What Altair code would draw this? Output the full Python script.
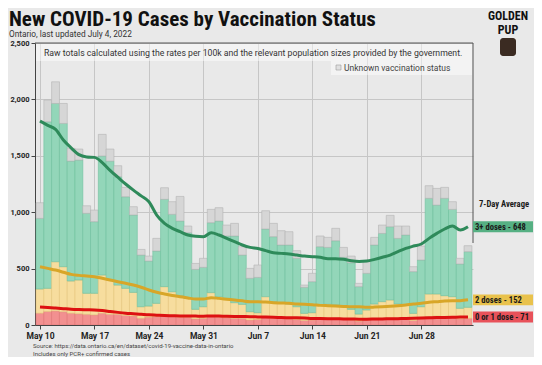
import altair as alt
import pandas as pd

# ---------------- data ----------------
dates = [d.strftime("%Y-%m-%d") for d in pd.date_range("2022-05-10", "2022-07-04", freq="D")]

dose01 = [105, 120, 125, 118, 105, 100, 95, 90, 105, 95, 95, 85, 80, 60,
          70, 75, 80, 80, 70, 70, 55, 60, 75, 70, 65, 60, 60, 45,
          50, 65, 60, 60, 55, 50, 40, 45, 60, 55, 55, 50, 45, 35,
          45, 55, 60, 60, 55, 50, 40, 55, 75, 80, 75, 70, 55, 60]
dose2 = [214, 205, 436, 399, 285, 299, 186, 191, 338, 304, 259, 240, 209, 102,
         98, 117, 260, 215, 190, 166, 84, 102, 212, 181, 171, 138, 123, 73,
         59, 186, 147, 132, 131, 112, 63, 64, 117, 128, 122, 118, 94, 62,
         88, 131, 147, 162, 131, 127, 63, 107, 200, 195, 185, 181, 93, 97]
dose3 = [626, 1477, 1403, 1270, 1063, 1063, 709, 635, 1055, 1054, 961, 812, 686, 458,
         399, 464, 774, 686, 662, 582, 354, 349, 620, 671, 553, 591, 437, 296,
         313, 600, 576, 517, 523, 429, 231, 275, 517, 505, 570, 432, 413, 243,
         325, 523, 605, 649, 582, 621, 370, 414, 848, 788, 863, 774, 393, 493]
unknown = [139, 192, 192, 177, 113, 98, 67, 103, 192, 107, 97, 83, 74, 50,
           44, 112, 103, 112, 218, 59, 53, 80, 118, 118, 97, 112, 74, 88,
           110, 162, 118, 127, 118, 68, 20, 74, 95, 89, 110, 88, 59, 29,
           103, 68, 74, 101, 109, 79, 44, 124, 112, 148, 97, 68, 50, 53]

# 7-day averages per category
avg01 = [160, 155, 150, 145, 140, 137, 135, 133, 128, 120, 112, 105, 100, 95,
         90, 87, 84, 82, 80, 80, 79, 78, 80, 79, 77, 76, 75, 74,
         72, 70, 68, 66, 65, 64, 62, 58, 57, 56, 55, 54, 53, 52,
         52, 53, 54, 55, 56, 58, 60, 62, 64, 66, 67, 68, 70, 71]
avg2 = [357, 347, 337, 323, 309, 303, 299, 295, 286, 279, 272, 265, 255, 240,
        220, 203, 191, 180, 171, 160, 151, 152, 162, 157, 152, 146, 139, 133,
        135, 133, 130, 129, 127, 123, 121, 122, 117, 115, 113, 111, 109, 110,
        105, 106, 108, 111, 115, 120, 126, 130, 137, 141, 146, 148, 146, 152]
avg3 = [1291, 1268, 1247, 1172, 1121, 1070, 1056, 1058, 1026, 971, 926, 880, 841, 810,
        783, 685, 626, 595, 576, 558, 556, 553, 576, 562, 539, 517, 495, 481,
        472, 456, 443, 440, 437, 433, 428, 426, 426, 417, 420, 417, 408, 402,
        410, 423, 438, 454, 479, 501, 514, 526, 567, 605, 638, 661, 626, 648]

week_ticks = ["2022-05-10", "2022-05-17", "2022-05-24", "2022-05-31",
              "2022-06-07", "2022-06-14", "2022-06-21", "2022-06-28"]
y_ticks = [0, 500, 1000, 1500, 2000, 2500]

cats = ["0 or 1 dose", "2 doses", "3+ doses", "Unknown"]
fills = ["#f29090", "#f7dd9e", "#93d6b9", "#d6d6d6"]
strokes = ["#e07676", "#e6c67c", "#6fc19d", "#b4b4b4"]
line_cats = ["0 or 1 dose", "2 doses", "3+ doses"]
line_colors = ["#dd1111", "#d8a628", "#2e8a5a"]
label_fills = ["#e8525a", "#e9c24c", "#56b083"]
label_names = ["0 or 1 dose", "2 doses", "3+ doses"]

# ---------------- frames ----------------
rows = []
for i, d in enumerate(dates):
    for k, (c, v) in enumerate(zip(cats, [dose01[i], dose2[i], dose3[i], unknown[i]])):
        rows.append({"date": d, "cat": c, "value": v, "ord": k})
bars_df = pd.DataFrame(rows)

lrows = []
for i, d in enumerate(dates):
    c1 = avg01[i]
    c2 = c1 + avg2[i]
    c3 = c2 + avg3[i]
    for c, v in zip(line_cats, [c1, c2, c3]):
        lrows.append({"date": d, "line": c, "cum": v})
lines_df = pd.DataFrame(lrows)

last = [avg01[-1], avg2[-1], avg3[-1]]
cum_last = [avg01[-1], avg01[-1] + avg2[-1], avg01[-1] + avg2[-1] + avg3[-1]]
lab_df = pd.DataFrame({
    "name": label_names,
    "text": [f"{n} - {v}" for n, v in zip(label_names, last)],
    "pos": cum_last,
    "fill": label_fills,
})
lab_df["top"] = lab_df["pos"] + 48
lab_df["bot"] = lab_df["pos"] - 48


def ms(s):
    return int(pd.Timestamp(s, tz="UTC").value // 10**6)


W, H = 438, 282
FONT = "Roboto"
NARROW = "Liberation Sans Narrow, Roboto Condensed, DejaVu Sans Condensed, sans-serif"

xscale = alt.Scale(type="utc", domain=[ms(dates[0]), ms(dates[-1])])
yscale = alt.Scale(domain=[0, 2500], nice=False)

xaxis = alt.Axis(values=[ms(t) for t in week_ticks],
                 labelExpr="utcFormat(datum.value, '%b %-d')",
                 labelFont=FONT, labelFontSize=8.5, labelFontWeight="bold", labelColor="#222",
                 tickSize=4, tickColor="#444", domainColor="#444", gridColor="#c6c6c6",
                 labelPadding=2, title=None, labelFlush=False)
yaxis = alt.Axis(values=y_ticks, labelExpr="format(datum.value, ',')", labelFont=FONT,
                 labelFontSize=7.5, labelFontWeight="bold", labelColor="#222", tickSize=4,
                 tickColor="#444", domainColor="#444", gridColor="#c6c6c6", labelPadding=2,
                 title=None)

bars = alt.Chart(bars_df).mark_bar(width=7.86, clip=True, strokeWidth=0.6).encode(
    x=alt.X("date:T", scale=xscale, axis=xaxis),
    y=alt.Y("value:Q", stack="zero", scale=yscale, axis=yaxis),
    color=alt.Color("cat:N", scale=alt.Scale(domain=cats, range=fills), legend=None),
    stroke=alt.Stroke("cat:N", scale=alt.Scale(domain=cats, range=strokes), legend=None),
    order=alt.Order("ord:Q"),
)

lines = alt.Chart(lines_df).mark_line(strokeWidth=3, clip=True, interpolate="monotone").encode(
    x=alt.X("date:T", scale=xscale, axis=xaxis),
    y=alt.Y("cum:Q", scale=yscale, axis=yaxis),
    color=alt.Color("line:N", scale=alt.Scale(domain=line_cats, range=line_colors), legend=None),
)

one = pd.DataFrame({"a": [0]})

band1 = alt.Chart(one).mark_rect(fill="white", opacity=0.45).encode(
    x=alt.value(1), x2=alt.value(W - 1), y=alt.value(1), y2=alt.value(18))
band2 = alt.Chart(one).mark_rect(fill="white", opacity=0.45).encode(
    x=alt.value(296), x2=alt.value(W - 1), y=alt.value(18), y2=alt.value(32))
top_rule = alt.Chart(one).mark_rule(color="#555", strokeWidth=1).encode(
    x=alt.value(0), x2=alt.value(W), y=alt.value(0))
right_rule = alt.Chart(one).mark_rule(color="#555", strokeWidth=1).encode(
    x=alt.value(W), y=alt.value(0), y2=alt.value(200))

note = alt.Chart(one).mark_text(align="left", baseline="middle", font=FONT, fontSize=8.7,
                                color="#333").encode(
    x=alt.value(9), y=alt.value(10),
    text=alt.value("Raw totals calculated using the rates per 100k and the relevant population sizes provided by the government."))
leg_sq = alt.Chart(one).mark_rect(fill="#e0e0e0", stroke="#9a9a9a", strokeWidth=0.6).encode(
    x=alt.value(301), x2=alt.value(306), y=alt.value(22), y2=alt.value(27))
leg_txt = alt.Chart(one).mark_text(align="left", baseline="middle", font=FONT, fontSize=8.5,
                                   color="#444").encode(
    x=alt.value(309), y=alt.value(25), text=alt.value("Unknown vaccination status"))

lab_rect = alt.Chart(lab_df).mark_rect().encode(
    x=alt.value(W), x2=alt.value(W + 60),
    y=alt.Y("top:Q", scale=yscale, axis=yaxis), y2="bot:Q",
    fill=alt.Fill("fill:N", scale=None, legend=None))
lab_txt = alt.Chart(lab_df).mark_text(align="left", baseline="middle", font=NARROW,
                                      fontSize=8.6, fontWeight="bold", color="#1a1a1a").encode(
    x=alt.value(W + 2), y=alt.Y("pos:Q", scale=yscale, axis=yaxis), text="text:N")
avg_title = alt.Chart(one).mark_text(align="center", baseline="middle", font=NARROW,
                                     fontSize=8.6, fontWeight="bold", color="#1a1a1a").encode(
    x=alt.value(W + 31), y=alt.value(161), text=alt.value("7-Day Average"))

title = alt.Chart(one).mark_text(align="left", baseline="alphabetic", font=NARROW,
                                 fontSize=21, fontWeight="bold", color="#111").encode(
    x=alt.value(-26), y=alt.value(-17.5),
    text=alt.value("New COVID-19 Cases by Vaccination Status"))
subtitle = alt.Chart(one).mark_text(align="left", baseline="middle", font=FONT, fontSize=8.3,
                                    color="#333").encode(
    x=alt.value(-26), y=alt.value(-8), text=alt.value("Ontario, last updated July 4, 2022"))
logo1 = alt.Chart(one).mark_text(align="center", baseline="alphabetic", font=NARROW,
                                 fontSize=12, fontWeight="bold", color="#111").encode(
    x=alt.value(473), y=alt.value(-23), text=alt.value("GOLDEN"))
logo2 = alt.Chart(one).mark_text(align="center", baseline="alphabetic", font=NARROW,
                                 fontSize=12, fontWeight="bold", color="#111").encode(
    x=alt.value(473), y=alt.value(-9), text=alt.value("PUP"))
logo3 = alt.Chart(one).mark_rect(fill="#3b2b22", cornerRadius=3).encode(
    x=alt.value(465), x2=alt.value(481), y=alt.value(-5), y2=alt.value(13))
src1 = alt.Chart(one).mark_text(align="left", baseline="middle", font=FONT, fontSize=6,
                                color="#444").encode(
    x=alt.value(-2), y=alt.value(303),
    text=alt.value("Source: https://data.ontario.ca/en/dataset/covid-19-vaccine-data-in-ontario"))
src2 = alt.Chart(one).mark_text(align="left", baseline="middle", font=FONT, fontSize=6,
                                color="#444").encode(
    x=alt.value(-2), y=alt.value(311), text=alt.value("Includes only PCR+ confirmed cases"))

chart = alt.layer(
    band1, band2, bars, lines, top_rule, right_rule, note, leg_sq, leg_txt,
    lab_rect, lab_txt, avg_title, title, subtitle, logo1, logo2, logo3, src1, src2,
).resolve_scale(color="independent", stroke="independent").properties(
    width=W, height=H,
    autosize=alt.AutoSizeParams(type="none"),
    padding={"left": 27, "top": 35, "right": 61, "bottom": 32},
    background="#e9e9e9",
).configure_view(stroke=None)

chart.save("out.html", embed_options={"renderer": "svg", "actions": False})
